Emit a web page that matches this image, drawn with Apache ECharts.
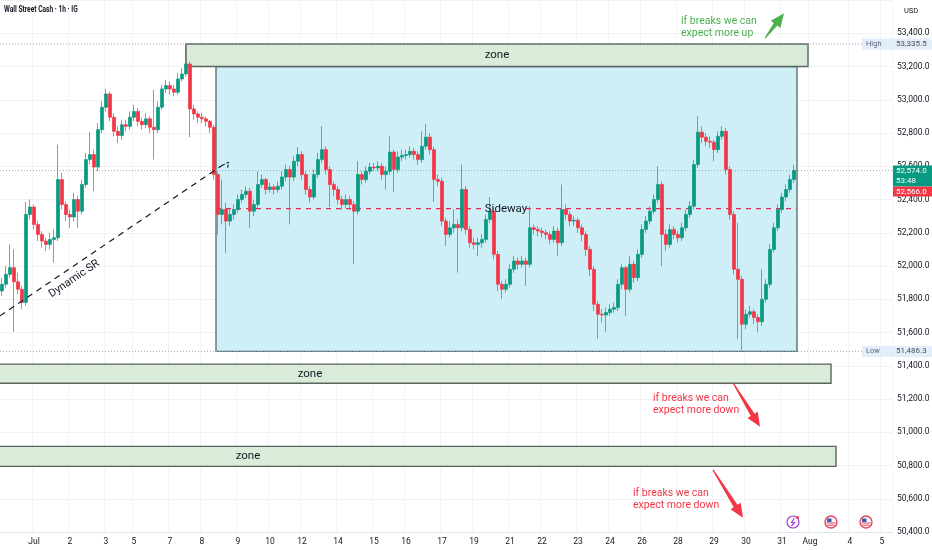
<!DOCTYPE html>
<html>
<head>
<meta charset="utf-8">
<title>Wall Street Cash - 1h</title>
<script src="https://cdn.jsdelivr.net/npm/echarts@6.0.0/dist/echarts.min.js"></script>
<style>
  html, body { margin: 0; padding: 0; background: #fff; }
  #main { width: 932px; height: 550px; }
</style>
</head>
<body>
<div id="main"></div>
<script type="text/javascript">
// ---- data (hourly candles grouped into 4px time slots) ----
var slotCount = 223;
var dateLabels = ['Jul','2','3','5','7','8','9','10','12','14','15','16','17','19','21','22','23','24','26','28','29','30','31','Aug','4','5'];
var dateSlots  = [8,17,26,33,42,50,59,67,75,84,93,101,110,118,127,135,144,152,160,169,178,186,195,202,212,220];

var firstOpen = 51850;
var closes = [
  51890,51950,51990,51905,51860,51780,52310,52355,52250,52190,
  52150,52130,52160,52170,52520,52370,52310,52295,52400,52330,
  52490,52640,52670,52595,52820,52955,53035,52895,52810,52785,
  52850,52840,52895,52930,52870,52850,52885,52835,52820,52955,
  53065,53085,53065,53045,53125,53155,53215,52945,52915,52895,
  52885,52870,52835,52550,52310,52340,52270,52310,52340,52400,
  52430,52450,52330,52370,52490,52520,52460,52475,52460,52480,
  52535,52580,52535,52630,52670,52550,52460,52415,52550,52640,
  52700,52580,52490,52460,52400,52370,52400,52370,52330,52550,
  52520,52570,52595,52590,52600,52550,52570,52685,52580,52655,
  52665,52670,52690,52670,52640,52720,52775,52700,52520,52510,
  52270,52190,52230,52250,52230,52460,52220,52140,52130,52140,
  52160,52280,52330,52070,51890,51860,51890,51980,52030,52010,
  52030,52010,52230,52220,52210,52200,52190,52160,52210,52140,
  52340,52310,52270,52275,52230,52190,52100,51980,51770,51710,
  51705,51720,51740,51750,51890,51990,51860,52010,51930,52070,
  52220,52270,52330,52400,52490,52190,52130,52220,52190,52170,
  52230,52310,52360,52610,52805,52775,52750,52745,52700,52780,
  52810,52580,52310,51980,51920,51650,51710,51725,51690,51665,
  51800,51890,52100,52230,52340,52415,52460,52520,52574
];
var highs = [
  51930,52000,52130,52100,51960,51880,52385,52400,52370,52270,
  52210,52170,52200,52220,52730,52560,52390,52340,52440,52420,
  52520,52680,52805,52700,52860,52990,53065,53050,52920,52840,
  52880,52880,52930,52970,52950,52890,52920,52900,53060,52990,
  53090,53120,53110,53090,53160,53190,53335.5,53230,52970,52930,
  52920,52900,52880,52850,52570,52520,52380,52350,52370,52430,
  52460,52480,52470,52400,52570,52550,52530,52500,52490,52510,
  52570,52610,52600,52660,52715,52690,52570,52480,52580,52680,
  52840,52720,52600,52510,52480,52420,52430,52420,52390,52630,
  52570,52600,52620,52620,52630,52620,52600,52780,52700,52690,
  52700,52700,52720,52710,52690,52810,52855,52800,52720,52550,
  52530,52290,52270,52340,52280,52610,52480,52240,52170,52170,
  52190,52310,52415,52350,52090,51910,51920,52010,52060,52050,
  52060,52050,52360,52250,52240,52230,52220,52210,52240,52230,
  52490,52370,52330,52300,52290,52250,52210,52120,52000,51790,
  51740,51750,51770,51780,51920,52010,52000,52060,52030,52100,
  52250,52300,52360,52430,52600,52510,52220,52250,52240,52210,
  52260,52340,52390,52640,52900,52840,52800,52780,52760,52810,
  52840,52830,52600,52330,52260,51940,51740,51760,51740,51710,
  51980,51920,52130,52260,52370,52440,52490,52550,52610
];
var lows = [
  51820,51870,51930,51605,51830,51740,51760,52280,52220,52150,
  52110,52090,52100,52020,52150,52340,52270,52230,52270,52230,
  52310,52470,52610,52450,52570,52800,52930,52870,52780,52740,
  52760,52810,52820,52870,52840,52820,52830,52800,52640,52800,
  52940,53040,53030,53020,53030,53110,53140,52775,52880,52860,
  52860,52840,52800,52520,52190,52250,52080,52240,52280,52320,
  52380,52410,52230,52300,52350,52470,52430,52440,52430,52440,
  52460,52510,52250,52510,52600,52520,52430,52380,52400,52530,
  52620,52550,52355,52420,52370,52340,52350,52340,52010,52310,
  52490,52500,52550,52570,52570,52520,52460,52550,52445,52560,
  52630,52640,52650,52640,52610,52620,52700,52670,52385,52480,
  52240,52120,52170,52200,51960,52210,52190,52110,52100,52060,
  52110,52140,52260,52040,51850,51800,51840,51870,51960,51980,
  51990,51880,51990,52190,52180,52170,52160,52130,52140,52060,
  52120,52280,52240,52240,52200,52150,52060,51940,51730,51560,
  51660,51605,51700,51720,51730,51860,51700,51840,51900,51910,
  52050,52200,52250,52310,52380,52000,52090,52110,52160,52140,
  52150,52210,52290,52340,52590,52740,52720,52710,52630,52680,
  52760,52550,52280,51950,51560,51486.3,51620,51690,51650,51600,
  51640,51780,51870,52080,52210,52320,52390,52440,52500
];

var highLevel = 53335.5;
var lowLevel = 51486.3;
var lastPrice = 52574;
var bidPrice = 52566;
var countdown = '53:48';

// drawings, in time-slot units / price
var boxLeft  = [54, 46.5, -52.75, -85];
var boxRight = [199.25, 202, 207.75, 209];
var boxLow   = [51486.3, 53200, 51295, 50795];
var boxHigh  = [53200, 53335.5, 51410, 50915];
var boxText  = ['', 'zone', 'zone', 'zone'];

var sidewayLevel = 52345;
var trendLine = [[0, 51700], [55.5, 52605]];
var trendTip  = [[55.5, 52605], [57.2, 52624], [56.8, 52581]];

var arrowFrom  = [[191.25, 53370], [183.25, 51298], [178.25, 50774]];
var arrowTo    = [[196, 53521], [190, 51033], [185.75, 50485]];
var noteAt     = [[170.25, 53433], [163.25, 51165], [158.25, 50599]];
var noteText   = ['if breaks we can\nexpect more up', 'if breaks we can\nexpect more down', 'if breaks we can\nexpect more down'];
var noteColor  = ['#4caf50', '#f23645', '#f23645'];
var eventSlots = [198.25, 207.75, 216.5];

// ---- build ----
var categories = [];
var labelFor = [];
for (var i = 0; i < slotCount; i++) { categories.push('s' + i); labelFor.push(''); }
dateSlots.forEach(function (s, k) { labelFor[s] = dateLabels[k]; });

var candleData = [];
for (var i = 0; i < closes.length; i++) {
  var o = i === 0 ? firstOpen : closes[i - 1];
  candleData.push([o, closes[i], lows[i], highs[i]]);
}

var boxData = [];
for (var i = 0; i < boxLeft.length; i++) boxData.push([boxLeft[i], boxRight[i], boxLow[i], boxHigh[i]]);

function fmt(v) {
  var parts = v.toFixed(1).split('.');
  parts[0] = parts[0].replace(/\B(?=(\d{3})+(?!\d))/g, ',');
  return parts.join('.');
}

var chartDom = document.getElementById('main');
var myChart = echarts.init(chartDom, null, {renderer: 'canvas'});

var option = {
  animation: false,
  backgroundColor: '#ffffff',
  grid: {left: 0, right: 40, top: 0, bottom: 18, containLabel: false, outerBoundsMode: 'none'},
  xAxis: [{
    type: 'category',
    data: categories,
    boundaryGap: true,
    axisLine: {show: true, lineStyle: {color: '#e0e3eb'}},
    axisTick: {show: false},
    axisLabel: {
      interval: function (idx) { return labelFor[idx] !== ''; },
      formatter: function (v, idx) { return labelFor[idx]; },
      color: '#131722', fontSize: 8.5, fontFamily: 'Roboto', margin: 5
    },
    splitLine: {
      show: true,
      interval: function (idx) { return labelFor[idx] !== ''; },
      lineStyle: {color: '#f2f3f6'}
    }
  }, {
    type: 'value', min: 0, max: slotCount, show: false
  }],
  yAxis: {
    type: 'value',
    position: 'right',
    min: 50400, max: 53600, interval: 200,
    axisLine: {show: false},
    axisTick: {show: false},
    splitLine: {lineStyle: {color: '#f0f2f5'}},
    axisLabel: {
      showMaxLabel: false,
      color: '#131722', fontSize: 8.5, fontFamily: 'Roboto', margin: 5,
      formatter: function (v) { return fmt(v); }
    }
  },
  series: [{
    type: 'custom',
    xAxisIndex: 1,
    z: 1,
    clip: true,
    silent: true,
    data: boxData,
    renderItem: function (params, api) {
      var k = params.dataIndex;
      var a = api.coord([api.value(0), api.value(3)]);
      var b = api.coord([api.value(1), api.value(2)]);
      var children = [{
        type: 'rect',
        shape: {x: a[0], y: a[1], width: b[0] - a[0], height: b[1] - a[1]},
        style: {
          fill: k === 0 ? '#cdeff5' : '#d9ecd9',
          stroke: k === 0 ? '#5a7275' : '#5d625f',
          lineWidth: 1.4
        }
      }];
      if (boxText[k]) {
        children.push({
          type: 'text',
          x: (a[0] + b[0]) / 2, y: (a[1] + b[1]) / 2,
          style: {text: boxText[k], align: 'center', verticalAlign: 'middle', fill: '#131722', font: '11.5px Roboto'}
        });
      }
      return {type: 'group', children: children};
    }
  }, {
    // dotted price levels
    type: 'line',
    xAxisIndex: 1,
    z: 2,
    symbol: 'none',
    silent: true,
    lineStyle: {color: '#a5a8b0', width: 1, type: [1, 2]},
    data: [[0, highLevel], [slotCount, highLevel], [slotCount, '-'],
           [0, lowLevel], [slotCount, lowLevel], [slotCount, '-'],
           [0, lastPrice], [slotCount, lastPrice]]
  }, {
    // sideway mid line
    type: 'line',
    xAxisIndex: 1,
    z: 2,
    symbol: 'none',
    silent: true,
    lineStyle: {color: '#e3285c', width: 1.4, type: [5, 5]},
    data: [[boxLeft[0], sidewayLevel], [121.5, sidewayLevel], [126, '-'],
           [131.5, sidewayLevel], [boxRight[0], sidewayLevel]]
  }, {
    type: 'candlestick',
    xAxisIndex: 0,
    z: 3,
    barWidth: 2.8,
    data: candleData,
    itemStyle: {
      color: '#089981', color0: '#f23645',
      borderColor: '#089981', borderColor0: '#f23645',
      borderWidth: 0.7
    }
  }, {
    name: 'Dynamic SR',
    type: 'line',
    xAxisIndex: 1,
    z: 4,
    symbol: 'none',
    silent: true,
    lineStyle: {color: '#131722', width: 1.2, type: [6, 5]},
    data: trendLine
  }, {
    type: 'line',
    xAxisIndex: 1,
    z: 4,
    symbol: 'none',
    silent: true,
    lineStyle: {color: '#131722', width: 1.1, type: [3, 2]},
    data: trendTip
  }]
};
myChart.setOption(option);

// ---- overlays that sit on the chart (labels, arrows, tags) ----
function P(u, p) { return myChart.convertToPixel({seriesIndex: 1}, [u, p]); }

function arrowPoints(t, h) {
  var dx = h[0] - t[0], dy = h[1] - t[1];
  var L = Math.sqrt(dx * dx + dy * dy);
  var ux = dx / L, uy = dy / L, nx = -uy, ny = ux;
  var hl = 14, hw = 6, s0 = 0.6, s1 = 2.2;
  var bx = h[0] - ux * hl, by = h[1] - uy * hl;
  return [
    [t[0] + nx * s0, t[1] + ny * s0], [bx + nx * s1, by + ny * s1], [bx + nx * hw, by + ny * hw],
    [h[0], h[1]],
    [bx - nx * hw, by - ny * hw], [bx - nx * s1, by - ny * s1], [t[0] - nx * s0, t[1] - ny * s0]
  ];
}

var els = [];
var rightEdge = P(slotCount, 52000)[0];
var bottomEdge = P(0, 50400)[1];

els.push({type: 'text', x: 4, y: 10, scaleX: 0.78, z: 100,
  style: {text: 'Wall Street Cash \u00b7 1h \u00b7 IG', font: 'bold 8.5px Roboto', fill: '#131722', verticalAlign: 'middle'}});
els.push({type: 'text', x: rightEdge + 12, y: 11, z: 100,
  style: {text: 'USD', font: '7.5px Roboto', fill: '#131722', verticalAlign: 'middle'}});

[['High', highLevel], ['Low', lowLevel]].forEach(function (t) {
  var y = P(0, t[1])[1];
  els.push({type: 'rect', z: 90, shape: {x: rightEdge - 30, y: y - 5.5, width: 72, height: 11}, style: {fill: '#e4eefa'}});
  els.push({type: 'text', z: 91, x: rightEdge - 26, y: y,
    style: {text: t[0], font: '7.5px Roboto', fill: '#5d6478', verticalAlign: 'middle'}});
  els.push({type: 'text', z: 91, x: rightEdge + 4, y: y,
    style: {text: fmt(t[1]), font: '8px Roboto', fill: '#4a4f5c', verticalAlign: 'middle'}});
});

var yc = P(0, lastPrice)[1];
els.push({type: 'rect', z: 92, shape: {x: rightEdge + 1, y: yc - 5, width: 40, height: 21}, style: {fill: '#089981'}});
els.push({type: 'text', z: 93, x: rightEdge + 4, y: yc + 0.5,
  style: {text: fmt(lastPrice), font: '8px Roboto', fill: '#ffffff', verticalAlign: 'middle'}});
els.push({type: 'text', z: 93, x: rightEdge + 4, y: yc + 10,
  style: {text: countdown, font: '8px Roboto', fill: '#ffffff', verticalAlign: 'middle'}});
els.push({type: 'rect', z: 92, shape: {x: rightEdge + 1, y: yc + 16, width: 40, height: 10}, style: {fill: '#f23645'}});
els.push({type: 'text', z: 93, x: rightEdge + 4, y: yc + 21,
  style: {text: fmt(bidPrice), font: '8px Roboto', fill: '#ffffff', verticalAlign: 'middle'}});

// Sideway label
var sp = P(126.5, sidewayLevel);
els.push({type: 'text', z: 60, x: sp[0], y: sp[1],
  style: {text: 'Sideway', font: '11.5px Roboto', fill: '#131722', align: 'center', verticalAlign: 'middle'}});

// Dynamic SR label along the trend line
var ta = P(trendLine[0][0], trendLine[0][1]);
var tb = P(trendLine[1][0], trendLine[1][1]);
var ang = Math.atan2(ta[1] - tb[1], tb[0] - ta[0]);
var f = 17 / 55.5;
var mx = ta[0] + (tb[0] - ta[0]) * f + Math.sin(ang) * 11;
var my = ta[1] + (tb[1] - ta[1]) * f + Math.cos(ang) * 11;
els.push({type: 'text', z: 60, x: mx, y: my, rotation: ang,
  style: {text: 'Dynamic SR', font: '11px Roboto', fill: '#131722', align: 'center', verticalAlign: 'middle'}});

// notes and arrows
for (var k = 0; k < noteText.length; k++) {
  var np = P(noteAt[k][0], noteAt[k][1]);
  els.push({type: 'text', z: 60, x: np[0], y: np[1],
    style: {text: noteText[k], font: '10.5px Roboto', lineHeight: 12, fill: noteColor[k], verticalAlign: 'middle'}});
  els.push({type: 'polygon', z: 60,
    shape: {points: arrowPoints(P(arrowFrom[k][0], arrowFrom[k][1]), P(arrowTo[k][0], arrowTo[k][1]))},
    style: {fill: noteColor[k]}});
}

// event markers at the bottom of the pane
eventSlots.forEach(function (u, k) {
  var cx = P(u, 52000)[0], cy = bottomEdge - 10;
  if (k === 0) {
    els.push({type: 'circle', z: 60, shape: {cx: cx, cy: cy, r: 6}, style: {fill: '#ffffff', stroke: '#a23fd1', lineWidth: 1.2}});
    els.push({type: 'polyline', z: 61,
      shape: {points: [[cx + 1.5, cy - 4], [cx - 1.5, cy + 0.5], [cx + 1.5, cy + 0.5], [cx - 1.5, cy + 4]]},
      style: {stroke: '#a23fd1', lineWidth: 1.2, fill: null}});
    els.push({type: 'circle', z: 62, shape: {cx: cx + 4.5, cy: cy - 4.5, r: 1.5}, style: {fill: '#f23645'}});
  } else {
    els.push({type: 'circle', z: 60, shape: {cx: cx, cy: cy, r: 6}, style: {fill: '#f7f7fb', stroke: '#e5455d', lineWidth: 1.4}});
    els.push({type: 'rect', z: 61, shape: {x: cx - 4, y: cy - 3.5, width: 4.5, height: 3.5}, style: {fill: '#3f5bb5'}});
    els.push({type: 'line', z: 61, shape: {x1: cx - 4.5, y1: cy + 1, x2: cx + 4.5, y2: cy + 1}, style: {stroke: '#e5455d', lineWidth: 1}});
    els.push({type: 'line', z: 61, shape: {x1: cx - 3.5, y1: cy + 3.2, x2: cx + 3.5, y2: cy + 3.2}, style: {stroke: '#e5455d', lineWidth: 1}});
  }
});

myChart.setOption({graphic: {elements: els}});
</script>
</body>
</html>
